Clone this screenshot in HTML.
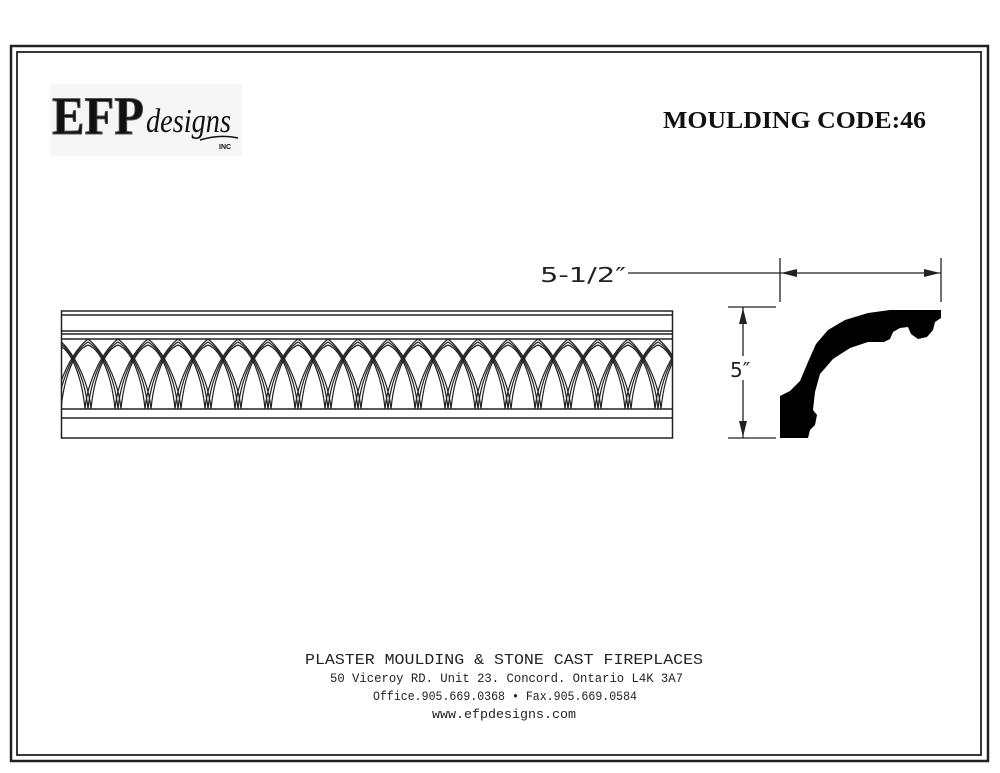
<!DOCTYPE html>
<html><head><meta charset="utf-8"><style>
html,body{margin:0;padding:0;background:#fff;}
svg{display:block;}
</style></head><body>
<svg width="1000" height="773" viewBox="0 0 1000 773" xmlns="http://www.w3.org/2000/svg">
<defs>
<clipPath id="c"><rect x="62" y="338" width="611" height="72"/></clipPath>
</defs>
<rect x="11" y="46" width="977" height="715" fill="none" stroke="#222" stroke-width="2.5"/>
<rect x="17" y="52" width="964" height="703" fill="none" stroke="#222" stroke-width="1.8"/>

<rect x="50" y="84" width="192" height="72" fill="#f6f6f6"/>
<text x="52" y="134" font-family="Liberation Serif, serif" font-weight="bold" font-size="54" textLength="92" lengthAdjust="spacingAndGlyphs" fill="#111" stroke="#555" stroke-width="1">EFP</text>
<text x="146" y="132" font-family="Liberation Serif, serif" font-style="italic" font-size="34" textLength="85" lengthAdjust="spacingAndGlyphs" fill="#111">designs</text>
<path d="M200 140 Q220 134 238 138" stroke="#111" fill="none" stroke-width="1.5"/>
<text x="219" y="149" font-family="Liberation Sans, sans-serif" font-weight="bold" font-size="7" fill="#111">INC</text>

<text x="663" y="128" font-family="Liberation Serif, serif" font-weight="bold" font-size="24" textLength="263" lengthAdjust="spacingAndGlyphs" fill="#111">MOULDING CODE:46</text>

<g stroke="#222" fill="none" stroke-width="1.5">
<rect x="61.5" y="311" width="611" height="127"/>
<line x1="61" y1="315" x2="673" y2="315"/>
<line x1="61" y1="331" x2="673" y2="331"/>
<line x1="61" y1="334" x2="673" y2="334"/>
<line x1="61" y1="339" x2="673" y2="339"/>
<line x1="61" y1="409" x2="673" y2="409"/>
<line x1="61" y1="418" x2="673" y2="418"/>
</g>
<g clip-path="url(#c)" stroke="#222" fill="none" stroke-width="1.2" id="arches"></g>

<path d="M780 438 L780 396 L790 391 L800 381 L808 362 L816 344 L828 330 L845 320 L868 313 L890 310 L941 310 L941 318 L935 322 L933 330 L927 337 L918 339 L911 334 L908 327 L900 328 L893 332 L890 339 L884 342 L868 342 L850 348 L833 359 L820 374 L815 392 L813 410 L817 415 L815 425 L810 430 L808 438 Z" fill="#000"/>

<g stroke="#222" stroke-width="1.3" fill="none">
<line x1="628" y1="273" x2="941" y2="273"/>
<line x1="780" y1="258" x2="780" y2="302"/>
<line x1="941" y1="258" x2="941" y2="302"/>
<line x1="728" y1="307" x2="776" y2="307"/>
<line x1="728" y1="438" x2="776" y2="438"/>
<line x1="743" y1="307" x2="743" y2="438"/>
</g>
<g fill="#222">
<polygon points="781,273 797,269 797,277"/>
<polygon points="940,273 924,269 924,277"/>
<polygon points="743,308 739,324 747,324"/>
<polygon points="743,437 739,421 747,421"/>
</g>
<text x="540" y="282" font-family="DejaVu Sans, sans-serif" font-size="20" fill="#222" textLength="86" lengthAdjust="spacingAndGlyphs">5-1/2″</text>
<rect x="729" y="356" width="28" height="24" fill="#fff"/>
<text x="730" y="377" font-family="DejaVu Sans, sans-serif" font-size="20" fill="#222">5″</text>

<g font-family="Liberation Mono, monospace" fill="#222">
<text x="305" y="664" font-size="15" textLength="398" lengthAdjust="spacingAndGlyphs">PLASTER MOULDING &amp; STONE CAST FIREPLACES</text>
<text x="330" y="682" font-size="12.5" textLength="353" lengthAdjust="spacingAndGlyphs">50 Viceroy RD. Unit 23. Concord.  Ontario  L4K 3A7</text>
<text x="373" y="700" font-size="12.5" textLength="264" lengthAdjust="spacingAndGlyphs">Office.905.669.0368 • Fax.905.669.0584</text>
<text x="432" y="718" font-size="12.5" textLength="144" lengthAdjust="spacingAndGlyphs">www.efpdesigns.com</text>
</g>
</svg>
<script>
(function(){
var g=document.getElementById('arches'),s='';
for(var b=28;b<700;b+=30){
 for(var o=-3;o<=3;o+=3){
  var l=b+o,r=b+60-o,a=b+30,t=339+(o+3);
  s+='<path d="M'+l+' 409 C'+(l+3)+' 378 '+(a-14)+' 350 '+a+' '+t+' C'+(a+14)+' 350 '+(r-3)+' 378 '+r+' 409"/>';
 }
}
g.innerHTML=s;
})();
</script>
</body></html>
